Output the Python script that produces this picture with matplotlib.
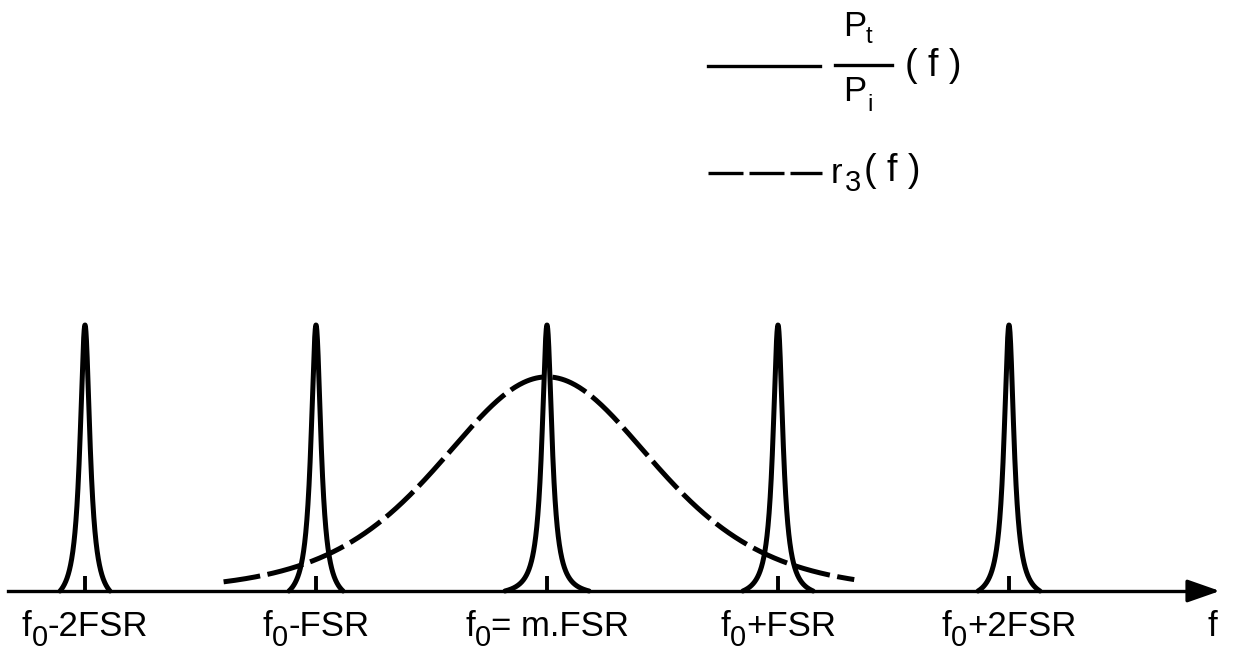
import numpy as np
import matplotlib
matplotlib.use('Agg')
import matplotlib.pyplot as plt
from matplotlib.transforms import offset_copy

plt.rcParams['font.family'] = ['Liberation Sans', 'DejaVu Sans']

# ---- data (frequency in units of FSR, measured from f0) ----
peak_pos = [-2, -1, 0, 1, 2]
peak_height = [1.0, 1.0, 1.0, 1.0, 1.0]
peak_base = [0.108, 0.117, 0.182, 0.152, 0.134]   # half-width where each peak meets the axis
peak_gamma = 0.026                                 # Lorentzian half-width of the transmission peaks
peak_labels = [("f", "0", "-2FSR"), ("f", "0", "-FSR"), ("f", "0", "= m.FSR"),
               ("f", "0", "+FSR"), ("f", "0", "+2FSR")]

r3_peak = 0.805       # maximum of r3(f)
r3_width = 0.62       # sech^2 width
r3_range = (-1.40, 1.33)

# ---- figure ----
W, H = 1234, 654
fig = plt.figure(figsize=(W / 100, H / 100), dpi=100)
ax = fig.add_axes([0, 0, 1, 1])
ax.set_xlim(-547 / 231, (W - 547) / 231)
ax.set_ylim((591 - H) / 266, 591 / 266)
ax.axis('off')

LW = 3.6

# transmission peaks P_t/P_i
for x0, hgt, b in zip(peak_pos, peak_height, peak_base):
    u = np.linspace(-b, b, 400)
    lor = 1 / (1 + (u / peak_gamma) ** 2)
    edge = 1 / (1 + (b / peak_gamma) ** 2)
    ax.plot(x0 + u, hgt * (lor - edge) / (1 - edge), color='black', lw=LW,
            solid_capstyle='round', solid_joinstyle='round')
    ax.plot([x0, x0], [0, 0.055], color='black', lw=2.8, solid_capstyle='butt')

# r3(f)
u = np.linspace(r3_range[0], r3_range[1], 600)
ax.plot(u, r3_peak / np.cosh(u / r3_width) ** 2, color='black', lw=LW,
        dashes=(7.4, 1.5), dash_capstyle='butt')

# frequency axis with arrow
ax.plot([-2.333, 2.82], [0, 0], color='black', lw=2.4)
ax.annotate('', xy=(2.925, 0), xytext=(2.78, 0),
            arrowprops=dict(arrowstyle='-|>,head_length=1.0,head_width=0.35',
                            color='black', lw=2.4, mutation_scale=20))

# tick labels with lowered subscripts
renderer = fig.canvas.get_renderer()
MAIN, SUB = 25, 21


def text_width(s, size):
    t = ax.text(0, 0, s, fontsize=size)
    w = t.get_window_extent(renderer).width
    t.remove()
    return w


def pieced_label(xc, yb, pieces):
    widths = [text_width(s, sz) for s, sz, _ in pieces]
    off = -sum(widths) / 2
    for (s, sz, dy), w in zip(pieces, widths):
        tr = offset_copy(ax.transData, fig=fig, x=off, y=dy, units='dots')
        ax.text(xc, yb, s, fontsize=sz, transform=tr, ha='left', va='baseline')
        off += w


label_base = (591 - 636) / 266
for x0, (a, s, rest) in zip(peak_pos, peak_labels):
    pieced_label(x0, label_base, [(a, MAIN, 0), (s, SUB, -10), (rest, MAIN, 0)])

ax.text((1212 - 547) / 231, label_base, "f", fontsize=MAIN, ha='center', va='baseline')


# legend
def fx(px):
    return px / W


def fy(py):
    return 1 - py / H


ax.plot([fx(708), fx(820)], [fy(66), fy(66)], color='black', lw=2.4, transform=ax.transAxes)
ax.plot([fx(835), fx(892)], [fy(65), fy(65)], color='black', lw=2.4, transform=ax.transAxes)
ax.text(fx(843), fy(36), "P", fontsize=MAIN, transform=ax.transAxes, va='baseline')
ax.text(fx(866), fy(43), "t", fontsize=17, transform=ax.transAxes, va='baseline')
ax.text(fx(843), fy(101), "P", fontsize=MAIN, transform=ax.transAxes, va='baseline')
ax.text(fx(867), fy(111), "i", fontsize=17, transform=ax.transAxes, va='baseline')
ax.text(fx(905), fy(76), "( f )", fontsize=27, transform=ax.transAxes, va='baseline')

ax.plot([fx(708), fx(822)], [fy(173), fy(173)], color='black', lw=2.4,
        dashes=(10.5, 1.8), dash_capstyle='butt', transform=ax.transAxes)
ax.text(fx(831), fy(183), "r", fontsize=MAIN, transform=ax.transAxes, va='baseline')
ax.text(fx(845), fy(191), "3", fontsize=SUB, transform=ax.transAxes, va='baseline')
ax.text(fx(864), fy(181), "( f )", fontsize=27, transform=ax.transAxes, va='baseline')

fig.savefig('out.png', dpi=100)
